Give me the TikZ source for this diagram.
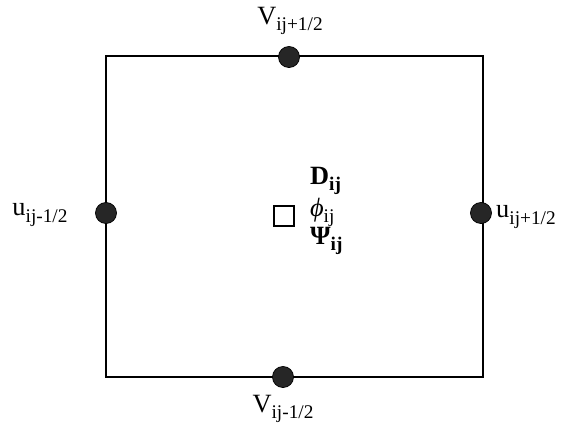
\documentclass[tikz,border=0pt]{standalone}
\usepackage{fontspec}
\setmainfont{Liberation Serif}
\usepackage{tikz}
\usetikzlibrary{positioning}
\newcommand{\cellsub}[1]{\raisebox{-0.5ex}{\fontsize{11}{12}\selectfont #1}}

\begin{document}
\begin{tikzpicture}[
			x=0.02cm,
			y=-0.02cm,
			every node/.style={
					font=\fontsize{15}{17}\selectfont,
					inner sep=1pt
				},
			facedot/.style={
					circle,
					fill=black!85,
					draw=black,
					minimum size=12pt,
					inner sep=0pt
				},
			cellbox/.style={
					draw,
					line width=1.3pt,
					minimum size=11.5pt,
					inner sep=0pt
				}
		]
		\useasboundingbox (0, 0) rectangle (566, 443);

		% cell corners
		\coordinate (sw) at (106, 377);
		\coordinate (se) at (483, 377);
		\coordinate (ne) at (483, 56);
		\coordinate (nw) at (106, 56);

		\draw[line width=1.1pt] (sw) -- (se) -- (ne) -- (nw) -- cycle;

		% face points
		\node[facedot] (vtop) at (289, 57) {};
		\node[facedot] (vbot) at (283, 377) {};
		\node[facedot] (uleft) at (106, 213) {};
		\node[facedot] (uright) at (481, 213) {};

		% cell centre
		\node[cellbox] (centre) at (284, 216) {};

		\node (vtoplabel) at (290, 21) {V\cellsub{ij+1/2}};
		\node (vbotlabel) at (283, 409) {V\cellsub{ij-1/2}};
		\node (uleftlabel) at (40, 215) {u\cellsub{ij-1/2}};
		\node (urightlabel) at (526, 217) {u\cellsub{ij+1/2}};

		\node[anchor=west] (dlabel) at (308, 181) {\textbf{D}\cellsub{\textbf{ij}}};
		\node[anchor=west] (philabel) at (308, 212) {\textit{ϕ}\cellsub{ij}};
		\node[anchor=west] (psilabel) at (308, 241) {\textbf{Ψ}\cellsub{\textbf{ij}}};
	\end{tikzpicture}
\end{document}
